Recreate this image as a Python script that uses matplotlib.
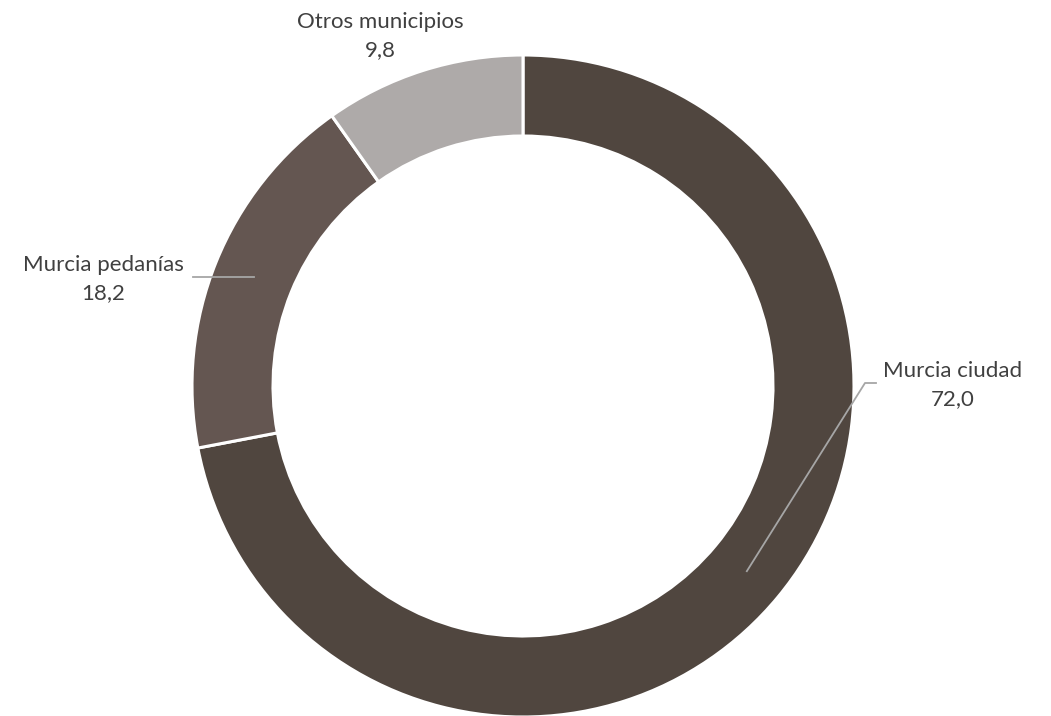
import matplotlib.pyplot as plt
import numpy as np

plt.rcParams['font.family'] = ['Lato', 'DejaVu Sans']

# Data
labels = ['Murcia ciudad', 'Murcia pedanías', 'Otros municipios']
values = [72.0, 18.2, 9.8]
colors = ['#50463F', '#645651', '#AEAAA9']

W, H = 1051, 716
fig = plt.figure(figsize=(W / 100, H / 100), dpi=100)
ax = fig.add_axes([0, 0, 1, 1])

cx, cy = 523, H - 386
r_out, ring = 331, 81

wedges, _ = ax.pie(values, colors=colors, startangle=90, counterclock=False,
                   center=(cx, cy), radius=r_out, frame=True,
                   wedgeprops=dict(width=ring, edgecolor='white', linewidth=2.2))
ax.set_xlim(0, W)
ax.set_ylim(0, H)
ax.set_aspect('equal')
ax.axis('off')

# label boxes (pixel coords, centre of the two-line label)
label_pos = [(953, 385), (103, 279), (380, 36)]
txt_color = '#404040'
line_color = '#A6A6A6'
r_mid = r_out - ring / 2

for w, lab, val, (lx, ly) in zip(wedges, labels, values, label_pos):
    ang = np.deg2rad((w.theta1 + w.theta2) / 2)
    px = cx + r_mid * np.cos(ang)
    py = cy + r_mid * np.sin(ang)
    ax.text(lx, H - ly, f"{lab}\n{val:.1f}".replace('.', ','), ha='center', va='center',
            fontsize=16, color=txt_color, linespacing=1.55)
    if lab == 'Murcia ciudad':
        ax.plot([px, 865, 876], [py, H - 383, H - 383], color=line_color, lw=1.3)
    elif lab == 'Murcia pedanías':
        ax.plot([193, px], [py, py], color=line_color, lw=1.3)

fig.savefig('out.png', dpi=100, facecolor='white')
